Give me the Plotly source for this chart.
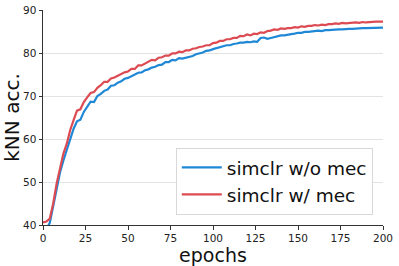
import plotly.graph_objects as go

epochs = list(range(0, 201, 2))

simclr_wo_mec = [
    38.5, 39.0, 40.5, 44.3, 48.7, 52.2, 55.0, 57.3, 59.6, 62.4,
    64.1, 64.5, 66.3, 67.4, 68.7, 68.6, 70.0, 70.5, 71.2, 71.5,
    72.4, 72.5, 73.1, 73.4, 74.0, 74.2, 74.6, 74.9, 75.4, 75.5,
    76.0, 76.2, 76.6, 76.8, 77.2, 77.3, 77.9, 77.9, 78.4, 78.3,
    78.8, 78.7, 78.9, 79.2, 79.3, 79.7, 79.9, 80.1, 80.5, 80.6,
    80.9, 81.1, 81.4, 81.5, 81.8, 81.8, 82.1, 82.2, 82.4, 82.4,
    82.6, 82.5, 82.7, 82.6, 83.5, 83.6, 83.3, 83.5, 83.7, 83.9,
    84.1, 84.1, 84.3, 84.4, 84.5, 84.7, 84.7, 84.9, 84.9, 85.0,
    85.1, 85.2, 85.1, 85.3, 85.3, 85.4, 85.4, 85.5, 85.5, 85.6,
    85.6, 85.6, 85.7, 85.7, 85.8, 85.8, 85.8, 85.9, 85.8, 85.9,
    85.9,
]

simclr_w_mec = [
    40.6, 40.8, 41.5, 45.0, 49.6, 53.4, 56.6, 58.9, 62.1, 64.4,
    66.6, 66.9, 68.6, 69.7, 70.7, 70.9, 71.9, 72.5, 73.3, 73.3,
    74.1, 74.3, 74.7, 75.1, 75.5, 75.7, 76.3, 76.3, 77.1, 77.1,
    77.6, 77.9, 78.4, 78.3, 78.9, 79.0, 79.4, 79.4, 79.9, 79.9,
    80.3, 80.2, 80.6, 80.6, 81.0, 81.1, 81.4, 81.5, 81.8, 81.8,
    82.3, 82.4, 82.8, 82.8, 83.2, 83.2, 83.5, 83.5, 84.0, 83.9,
    84.3, 84.1, 84.5, 84.4, 84.8, 84.7, 85.1, 85.2, 85.5, 85.4,
    85.7, 85.6, 85.8, 85.8, 86.0, 85.9, 86.2, 86.1, 86.3, 86.3,
    86.5, 86.4, 86.6, 86.5, 86.7, 86.7, 86.9, 86.8, 87.0, 86.9,
    87.0, 87.1, 87.1, 87.0, 87.2, 87.1, 87.2, 87.2, 87.3, 87.3,
    87.3,
]

x_ticks = [0, 25, 50, 75, 100, 125, 150, 175, 200]
y_ticks = [40, 50, 60, 70, 80, 90]

FONT = "DejaVu Sans"

fig = go.Figure()
fig.add_trace(go.Scatter(x=epochs, y=simclr_wo_mec, mode="lines",
                         name="simclr w/o mec",
                         line=dict(color="#1f88d6", width=2.2)))
fig.add_trace(go.Scatter(x=epochs, y=simclr_w_mec, mode="lines",
                         name="simclr w/ mec",
                         line=dict(color="#dc4a52", width=2.2)))

fig.update_layout(
    width=399, height=266,
    margin=dict(l=43, r=16, t=10, b=41, autoexpand=False),
    paper_bgcolor="white", plot_bgcolor="white",
    font=dict(family=FONT, color="#222222"),
    showlegend=True,
    legend=dict(x=0.97, y=0.047, xanchor="right", yanchor="bottom",
                bgcolor="white", bordercolor="#d8d8d8", borderwidth=1,
                font=dict(size=18.5, family=FONT, color="#111111"),
                tracegroupgap=0, itemwidth=40),
    xaxis=dict(range=[0, 200], tickvals=x_ticks, showgrid=False,
               showline=True, linecolor="#333333", linewidth=1,
               ticks="outside", ticklen=3.5, tickcolor="#333333",
               tickfont=dict(size=10.5, family=FONT),
               title=dict(text="epochs", font=dict(size=19, family=FONT, color="#111111"),
                          standoff=1),
               automargin=False, zeroline=False),
    yaxis=dict(range=[40, 90], tickvals=y_ticks, showgrid=True,
               gridcolor="#e3e3e3", gridwidth=1,
               showline=True, linecolor="#333333", linewidth=1,
               ticks="outside", ticklen=3.5, tickcolor="#333333",
               tickfont=dict(size=10.5, family=FONT),
               title=dict(text="kNN acc.", font=dict(size=20, family=FONT, color="#111111"),
                          standoff=3),
               automargin=False, zeroline=False),
)

fig.write_html("out.html", config={"displayModeBar": False},
               post_script="document.body.style.margin='0';document.body.style.padding='0';")
